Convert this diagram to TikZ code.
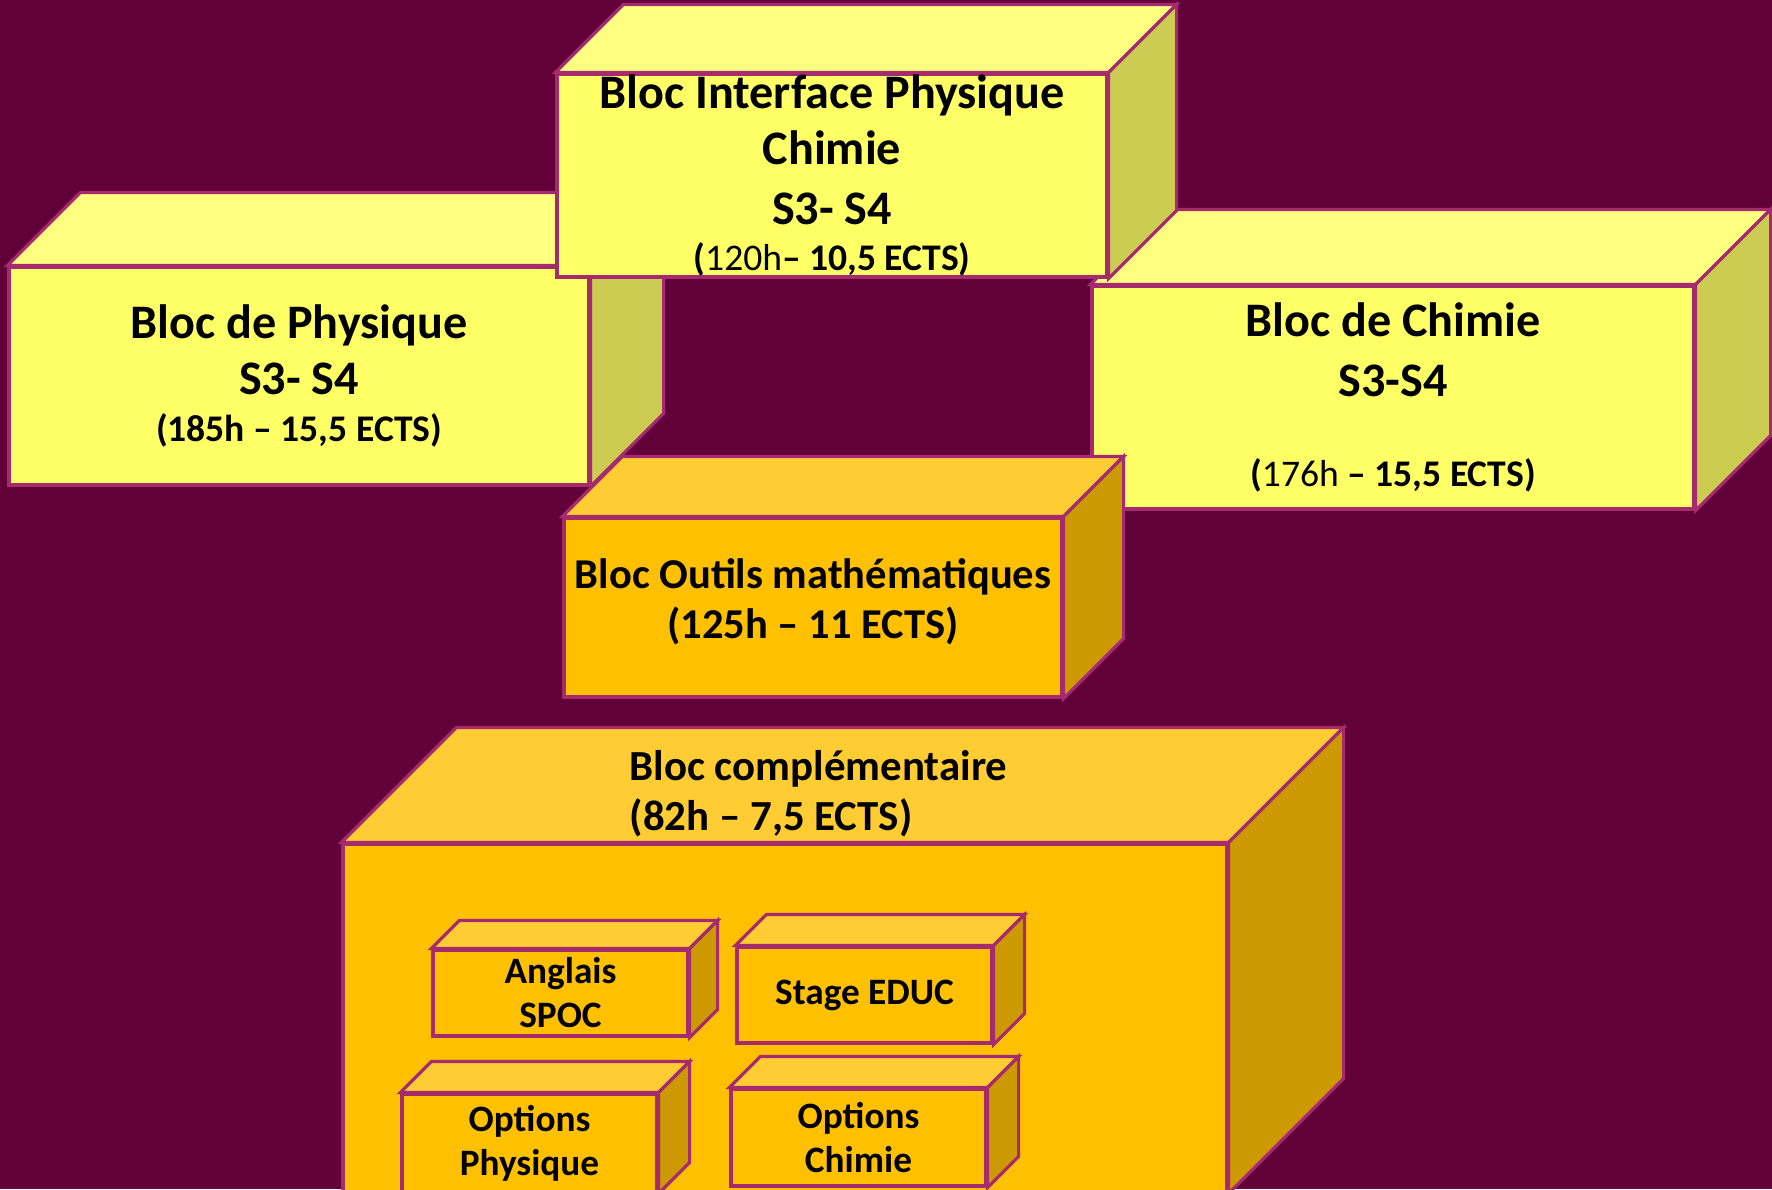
\documentclass[tikz,border=0pt]{standalone}
\usepackage{fontspec}
\setmainfont{Carlito}
\usetikzlibrary{calc}
\definecolor{bgc}{HTML}{62003A}
\definecolor{edgec}{HTML}{A52A6E}
\definecolor{yfront}{HTML}{FFFF66}
\definecolor{ytop}{HTML}{FFFF80}
\definecolor{yside}{HTML}{CCCC52}
\definecolor{ofront}{HTML}{FFC000}
\definecolor{otop}{HTML}{FFCC33}
\definecolor{oside}{HTML}{CC9A00}
\newcommand{\ects}{\fontsize{10.7}{12}\selectfont}
% top and side faces of a block, hung on its front node
\newcommand{\faces}[4]{%
  \filldraw[face,fill=#3] (#1.north west) -- ++(#2,#2) -- ($(#1.north east)+(#2,#2)$) -- (#1.north east) -- cycle;
  \filldraw[face,fill=#4] (#1.north east) -- ++(#2,#2) -- ($(#1.south east)+(#2,#2)$) -- (#1.south east) -- cycle;}

\begin{document}
\begin{tikzpicture}[
  face/.style={draw=edgec,line width=.9pt,line join=miter},
  front/.style={face,inner sep=0pt,align=center,font=\bfseries\fontsize{13.7}{16}\selectfont},
  ybox/.style={front,fill=yfront},
  obox/.style={front,fill=ofront},
  sbox/.style={obox,minimum width=2.55cm,font=\bfseries\fontsize{10.6}{12.5}\selectfont}]
\fill[bgc] (0,0) rectangle (17.72,-11.89);
\useasboundingbox (0,0) rectangle (17.72,-11.89);

% upper row
\node[ybox,minimum width=5.8cm,minimum height=2.18cm] (phy) at (2.99,-3.76)
  {Bloc de Physique\\S3- S4\\[-2.7pt]{\ects(185h – 15,5 ECTS)}};
\faces{phy}{.73}{ytop}{yside}
\node[ybox,minimum width=6.02cm,minimum height=2.23cm] (chi) at (13.93,-3.975)
  {Bloc de Chimie\\[1pt]S3-S4\\[9.5pt]{\ects(\mdseries176h \bfseries– 15,5 ECTS)}};
\faces{chi}{.75}{ytop}{yside}
\node[ybox,minimum width=5.5cm,minimum height=2.03cm] (ipc) at (8.32,-1.755)
  {Bloc Interface Physique\\Chimie\\[1pt]S3- S4\\[-3pt]{\ects(\mdseries120h\bfseries– 10,5 ECTS)}};
\faces{ipc}{.68}{ytop}{yside}

% maths
\node[obox,minimum width=4.98cm,minimum height=1.79cm,font=\bfseries\fontsize{12.1}{14.2}\selectfont] (out) at (8.13,-6.075)
  {Bloc Outils mathématiques\\(125h – 11 ECTS)\\[-9pt]\mbox{}};
\faces{out}{.6}{otop}{oside}

% complementary block and its parts
\node[obox,minimum width=8.84cm,minimum height=3.48cm] (cmp) at (7.85,-10.18) {};
\faces{cmp}{1.15}{otop}{oside}
\node[align=left,anchor=base west,inner sep=0pt,font=\bfseries\fontsize{12.2}{14.2}\selectfont] (cmplbl) at (6.29,-8.30)
  {Bloc complémentaire\\(82h – 7,5 ECTS)};
\node[sbox,minimum height=.86cm] (ang) at (5.605,-9.93) {Anglais\\SPOC};
\faces{ang}{.28}{otop}{oside}
\node[sbox,minimum height=.96cm] (stg) at (8.645,-9.95) {Stage EDUC};
\faces{stg}{.31}{otop}{oside}
\node[sbox,minimum height=.98cm] (oph) at (5.295,-11.43) {Options\\Physique};
\faces{oph}{.31}{otop}{oside}
\node[sbox,minimum height=.97cm] (och) at (8.585,-11.375) {Options\\Chimie};
\faces{och}{.31}{otop}{oside}
\end{tikzpicture}
\end{document}
